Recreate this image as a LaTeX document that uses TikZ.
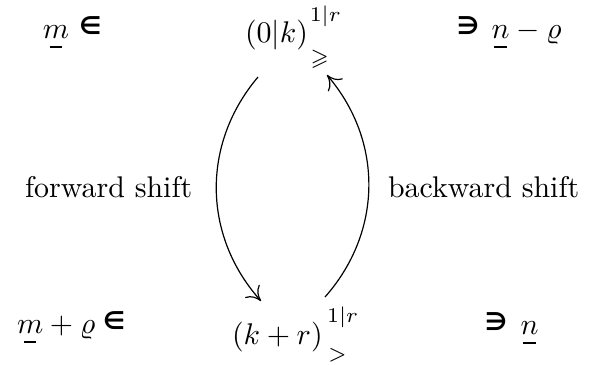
\documentclass[tikz,border=0pt]{standalone}
\usepackage{amsmath,amssymb}
\usepackage{fontspec}
\newfontfamily\djs{DejaVu Sans}
\usetikzlibrary{calc,arrows.meta}
\newcommand{\ubm}[1]{\mathord{\ooalign{$#1$\cr\hfil\rule[-3.2pt]{4.2pt}{0.45pt}\hfil\cr}}}
\newcommand{\bin}{\raisebox{1.2pt}{\djs\bfseries\fontsize{8.2}{8}\selectfont ∈}}
\newcommand{\bni}{\raisebox{1.2pt}{\djs\bfseries\fontsize{8.2}{8}\selectfont ∋}}
\tikzset{
  lab/.style={anchor=base west, inner sep=0pt, outer sep=0pt},
  shiftarrow/.style={draw, line width=0.4pt, -{Computer Modern Rightarrow[length=4.5pt,width=6.5pt]}},
}
\begin{document}
\begin{tikzpicture}[x=0.3344pt, y=-0.3344pt]
\useasboundingbox (0,0) rectangle (591,364);
% top row
\node[lab] (tl) at (43,38) {$\ubm{m}$\hspace{3.4pt}\bin};
\node[lab] (top) at (245,42.5) {$(0|k)\rlap{\kern0.6pt\raisebox{6.9pt}{$\scriptstyle 1|r$}}\kern0.8pt\raisebox{-7.5pt}{$\scriptstyle\geqslant$}$};
\node[lab] (tr) at (457,38) {\bni\hspace{4.2pt}$\ubm{n}-\varrho$};
% bottom row
\node[lab] (bl) at (17,333) {$\ubm{m}+\varrho$\hspace{2.6pt}\bin};
\node[lab] (bot) at (232,344.5) {$(k+r)\rlap{\kern1.5pt\raisebox{7.2pt}{$\scriptstyle 1|r$}}\kern1.8pt\raisebox{-5.5pt}{$\scriptstyle >$}$};
\node[lab] (br) at (485,334) {\bni\hspace{4.6pt}$\ubm{n}$};
% labels
\node[lab] (fw) at (25,197) {forward shift};
\node[lab] (bw) at (388,197) {backward shift};
% arrows
\path[shiftarrow] ($(top.base west)+(13,34.5)$) to[bend right=41] ($(bot.base west)+(29,-43.5)$);
\path[shiftarrow] ($(bot.base west)+(93,-47.5)$) to[bend right=41] ($(top.base west)+(82,32.5)$);
\end{tikzpicture}
\end{document}
